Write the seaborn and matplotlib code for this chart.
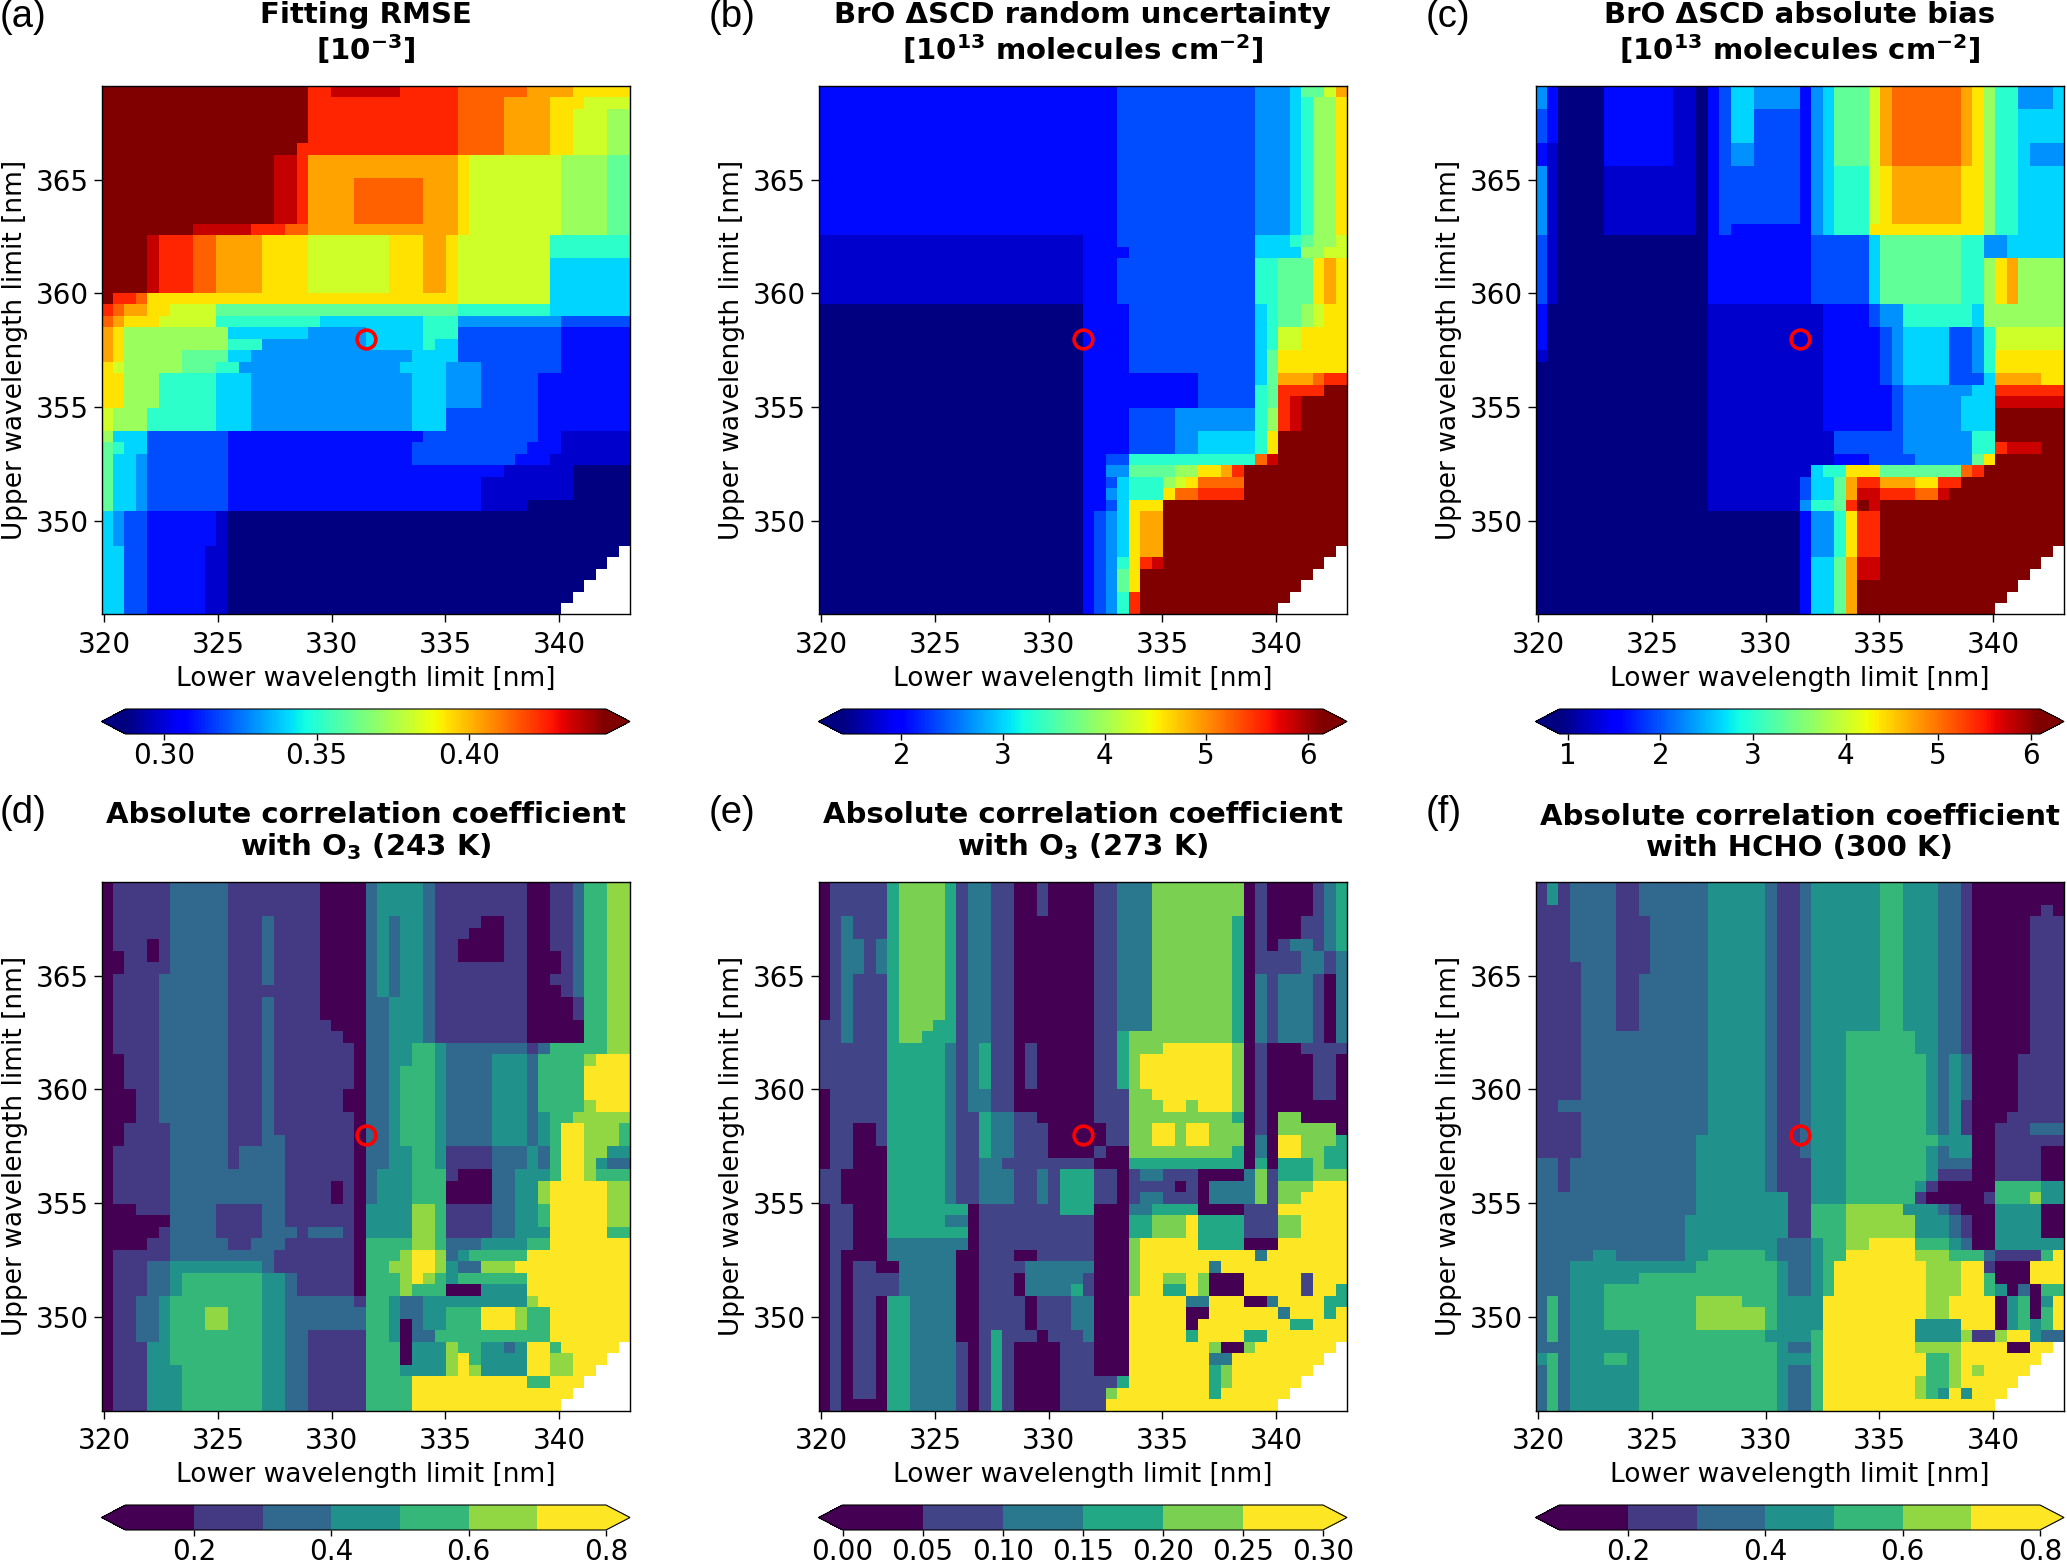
"""Sensitivity of the BrO fit to the wavelength window: six heatmaps."""

import matplotlib

matplotlib.use("Agg")
import matplotlib.pyplot as plt
import numpy as np
import pandas as pd
import seaborn as sns
from matplotlib.colors import BoundaryNorm, ListedColormap

W, H = 2067, 1563
N_CELLS = 46
LOWER_EDGE = 319.875
UPPER_EDGE = 369.125
CELL = 23.25 / N_CELLS

X_TICKS = [320, 325, 330, 335, 340]
Y_TICKS = [350, 355, 360, 365]
FIT_LOWER = 331.5
FIT_UPPER = 358.0

# white corner: number of missing cells in the last rows
MISSING_CELLS = [1, 2, 3, 4, 5, 6]

# Each row group: (how many rows, "code+run code+run ..."), top row first.
# A code is an index into the panel's level list, "*" runs to the right edge.
RMSE_LEVELS = [0.288, 0.298, 0.309, 0.319, 0.330, 0.340, 0.351, 0.361,
               0.372, 0.382, 0.393, 0.403, 0.414, 0.424, 0.435, 0.445]
RMSE_ROWS = [
    (1, "F18 D2 E6 D5 C6 B4 A5"),
    (1, "F18 D13 C4 B4 A3 9*"),
    (3, "F18 D13 C4 B4 A2 93 8*"),
    (1, "F17 D1 D13 C4 B4 A2 93 8*"),
    (2, "F15 E2 D1 B13 A1 98 84 7*"),
    (4, "F15 E2 D1 B4 C6 B3 A1 98 84 7*"),
    (1, "F8 E5 D3 C2 B13 A1 98 84 7*"),
    (2, "F4 E1 D3 C2 B4 A4 97 A3 B2 A1 98 6*"),
    (3, "F4 E1 D3 C2 B4 A4 97 A3 B2 A1 98 5*"),
    (1, "F1 D2 C1 A27 98 5*"),
    (1, "D1 C1 B2 A2 94 721 68 5*"),
    (1, "C1 B1 A3 95 69 59 63 49 3*"),
    (1, "B1 A1 89 57 45 55 63 39 2*"),
    (1, "B1 A1 89 63 49 55 61 52 39 2*"),
    (1, "B1 A1 85 74 52 414 54 39 2*"),
    (1, "A1 91 85 73 62 414 54 43 37 2*"),
    (3, "A2 83 65 53 414 53 43 35 2*"),
    (2, "91 83 66 53 414 53 38 2*"),
    (1, "81 53 37 217 310 22 1*"),
    (1, "71 61 52 37 216 310 23 1*"),
    (1, "71 52 41 37 216 39 23 1*"),
    (1, "71 52 41 37 224 16 0*"),
    (2, "71 52 41 37 222 18 0*"),
    (1, "71 52 41 37 222 14 0*"),
    (3, "51 41 32 26 11 0*"),
    (6, "52 31 31 25 12 0*"),
]

RANDOM_LEVELS = [1.42, 1.74, 2.05, 2.37, 2.68, 3.00, 3.31, 3.63,
                 3.94, 4.26, 4.57, 4.89, 5.20, 5.52, 5.83, 6.15]
RANDOM_ROWS = [
    (1, "223 23 312 43 51 72 91 B*"),
    (12, "223 23 312 43 51 61 82 A*"),
    (1, "123 23 312 53 61 71 82 9*"),
    (1, "123 24 311 54 82 9*"),
    (4, "123 23 312 62 73 A1 B1 A*"),
    (2, "023 24 311 51 61 72 81 91 A*"),
    (2, "023 24 311 51 61 92 A*"),
    (2, "023 24 311 51 71 A*"),
    (1, "023 24 26 35 51 71 B3 C1 D*"),
    (1, "023 24 26 35 61 71 D4 F*"),
    (1, "023 25 25 35 61 71 D1 E1 F*"),
    (2, "023 24 34 47 61 81 D1 E1 F*"),
    (2, "023 24 34 42 55 61 A1 F*"),
    (1, "023 22 32 611 C1 E1 F*"),
    (1, "023 22 42 74 82 A2 B1 D1 F*"),
    (1, "023 22 31 51 63 81 91 A1 C4 F*"),
    (1, "023 22 41 51 63 A1 C2 D4 F*"),
    (1, "023 22 31 51 A3 F*"),
    (4, "023 21 31 41 51 A1 B2 F*"),
    (1, "023 21 31 41 61 A1 D1 E1 F*"),
    (2, "023 21 31 41 71 A1 F*"),
    (2, "023 21 31 41 61 D1 F*"),
]

BIAS_LEVELS = [0.91, 1.26, 1.60, 1.95, 2.29, 2.64, 2.99, 3.33,
               3.68, 4.02, 4.37, 4.72, 5.06, 5.41, 5.75, 6.10]
BIAS_ROWS = [
    (2, "41 21 04 26 12 01 21 31 52 44 21 41 51 73 91 B1 C6 B1 A1 81 62 43 5*"),
    (3, "31 21 04 26 12 01 21 31 52 34 21 41 51 73 91 B1 C6 B1 A1 81 62 53 5*"),
    (2, "21 11 04 26 12 01 21 31 42 34 21 41 51 73 91 B1 C6 B1 A1 81 62 51 4*"),
    (5, "41 11 04 18 01 21 31 36 21 41 51 63 91 A1 B6 A2 81 62 5*"),
    (1, "41 11 04 18 01 21 31 26 21 41 51 63 A10 81 62 5*"),
    (2, "31 11 013 29 35 51 77 62 42 5*"),
    (4, "31 11 013 29 35 51 77 62 81 A1 B1 8*"),
    (2, "21 014 110 24 31 42 66 51 8*"),
    (2, "21 014 110 25 31 41 54 32 41 61 9*"),
    (1, "11 014 110 25 31 41 54 32 41 61 A*"),
    (1, "015 110 25 31 41 54 32 41 61 A*"),
    (1, "015 110 25 31 41 54 33 51 B4 A*"),
    (1, "015 110 26 31 46 52 D*"),
    (1, "015 110 26 31 45 53 E*"),
    (2, "015 110 26 31 45 53 F*"),
    (1, "015 111 36 46 62 F*"),
    (1, "015 111 36 46 62 D1 E3 F*"),
    (1, "015 111 23 34 45 71 A1 F*"),
    (1, "015 19 51 62 A3 77 C1 D1 F*"),
    (1, "015 18 31 52 71 B1 D2 B3 A2 D2 F*"),
    (1, "015 18 31 52 71 B1 E2 D3 C2 E1 F*"),
    (1, "015 18 41 62 71 D1 F1 E1 F*"),
    (4, "023 21 42 61 A1 D2 F*"),
    (2, "023 21 52 71 B1 E2 F*"),
    (3, "023 21 52 71 B1 F*"),
]

O3_243_LEVELS = [0.15, 0.25, 0.35, 0.45, 0.55, 0.65, 0.75]
O3_243_ROWS = [
    (3, "01 15 25 18 04 21 34 21 18 02 12 21 42 5*"),
    (1, "01 15 25 13 21 14 04 21 31 21 32 21 14 02 12 02 12 21 42 5*"),
    (1, "01 15 25 13 21 14 04 21 31 21 32 21 13 03 12 02 12 21 42 5*"),
    (1, "01 13 01 11 25 13 21 14 04 21 31 21 32 21 12 04 12 02 12 21 42 5*"),
    (1, "02 12 01 11 25 13 21 14 04 21 31 21 32 21 12 04 12 03 11 21 42 5*"),
    (1, "02 14 25 13 21 14 04 21 31 21 32 21 18 03 11 21 42 5*"),
    (1, "01 14 26 13 21 14 04 21 31 21 32 21 18 02 12 21 42 5*"),
    (1, "01 14 26 18 04 21 31 21 32 21 18 03 11 21 42 5*"),
    (2, "01 14 26 13 21 14 04 22 33 21 18 04 11 42 5*"),
    (1, "01 14 26 13 21 15 03 22 33 21 18 05 42 5*"),
    (1, "01 14 26 13 21 16 02 22 33 21 18 05 42 5*"),
    (1, "01 14 26 13 21 17 01 22 32 42 31 27 11 21 45 5*"),
    (1, "02 13 26 13 21 17 01 22 32 42 31 24 33 21 44 51 6*"),
    (2, "02 13 26 13 21 17 01 22 31 43 31 24 33 21 44 6*"),
    (1, "03 12 26 13 21 16 02 22 31 43 31 24 33 21 44 6*"),
    (1, "03 12 26 13 21 16 02 22 31 43 31 24 33 21 44 51 6*"),
    (1, "03 12 26 13 21 17 01 22 31 43 31 24 33 21 31 42 5*"),
    (1, "02 14 25 13 21 17 01 22 31 43 31 24 33 21 31 41 62 53 4*"),
    (1, "02 14 25 13 22 16 01 22 31 43 31 24 33 21 31 41 62 53 4*"),
    (1, "01 15 25 11 24 16 01 22 32 42 31 14 23 31 21 41 62 52 3*"),
    (1, "01 15 25 11 24 16 01 22 32 42 31 14 23 31 21 41 62 51 31 2*"),
    (1, "01 15 26 24 16 01 21 33 43 11 03 22 32 31 41 62 51 4*"),
    (2, "01 15 26 24 14 01 11 01 21 33 43 04 22 32 51 65 5*"),
    (1, "03 13 24 14 22 16 01 34 52 41 14 22 32 41 65 5*"),
    (1, "06 24 14 22 16 01 34 52 41 14 22 32 41 65 5*"),
    (1, "05 11 24 14 23 11 23 11 01 34 52 41 14 22 33 65 4*"),
    (1, "04 12 25 12 23 16 01 44 52 41 23 34 42 6*"),
    (1, "01 15 29 17 01 43 51 62 51 21 31 45 6*"),
    (1, "01 13 22 38 21 17 01 42 52 62 51 31 22 53 6*"),
    (1, "01 13 22 31 47 32 21 15 01 43 51 61 51 41 31 46 6*"),
    (1, "01 13 22 31 47 32 21 15 01 43 51 43 03 34 6*"),
    (1, "01 12 22 31 48 32 26 11 42 31 22 39 51 6*"),
    (1, "01 12 22 31 43 52 43 32 27 42 31 22 32 43 63 51 42 6*"),
    (1, "01 12 22 31 43 52 43 32 27 42 31 01 21 32 43 63 51 42 6*"),
    (1, "01 12 22 31 48 32 22 15 42 31 01 22 410 6*"),
    (1, "01 13 32 48 32 22 15 43 01 33 51 42 32 21 31 62 41 6*"),
    (1, "01 13 32 48 32 22 15 43 01 33 51 61 41 34 62 52 6*"),
    (1, "01 13 33 47 32 22 15 43 31 33 51 61 51 34 62 52 6*"),
    (1, "01 13 33 47 32 22 15 44 610 42 6*"),
    (2, "01 13 33 47 32 22 15 44 6*"),
]

O3_273_LEVELS = [0.025, 0.075, 0.125, 0.175, 0.225, 0.275]
O3_273_ROWS = [
    (3, "01 15 31 44 31 11 22 12 02 11 04 12 23 48 01 11 04 11 21 3*"),
    (2, "01 11 21 13 31 44 31 11 22 12 07 12 23 47 31 01 11 03 12 21 3*"),
    (1, "01 11 22 11 21 31 44 31 11 22 12 07 12 23 47 31 01 11 01 11 22 11 21 3*"),
    (2, "01 11 22 11 21 31 44 31 11 22 12 07 12 23 47 31 01 11 13 22 11 21 3*"),
    (4, "01 11 21 13 31 44 31 11 22 12 07 12 23 47 31 01 21 11 23 11 01 2*"),
    (1, "12 21 13 31 43 32 11 22 12 07 12 23 47 31 01 21 11 23 11 01 2*"),
    (1, "12 21 13 31 42 33 11 22 12 07 12 31 42 47 31 01 21 11 23 11 01 2*"),
    (1, "16 35 21 11 21 31 12 01 11 05 12 31 43 56 41 01 11 03 1*"),
    (3, "16 35 21 11 21 31 12 01 11 05 12 31 41 58 41 01 11 04 12 0*"),
    (1, "01 15 35 21 11 21 21 12 07 13 42 57 41 01 11 04 12 0*"),
    (1, "01 15 35 21 11 21 21 12 07 13 42 41 52 41 53 41 01 11 0*"),
    (1, "01 15 35 21 12 31 22 12 05 13 49 31 01 11 01 42 0*"),
    (1, "01 12 02 11 35 21 12 31 22 13 05 12 42 52 41 52 43 01 11 01 45 0*"),
    (1, "01 12 02 11 35 21 12 31 22 13 05 12 42 52 41 52 43 01 21 01 52 43 3*"),
    (1, "01 12 03 35 21 12 31 22 13 04 11 02 49 31 01 21 01 52 42 3*"),
    (1, "01 12 03 35 21 12 22 18 03 310 01 31 01 33 41 3*"),
    (1, "12 04 35 21 12 23 12 21 11 33 12 01 11 22 13 04 21 41 11 33 4*"),
    (1, "12 04 35 21 12 23 12 21 11 33 12 01 14 01 11 01 23 21 41 11 43 5*"),
    (1, "12 04 35 21 12 23 12 21 11 33 12 01 11 22 13 01 23 21 41 11 42 5*"),
    (1, "01 12 03 37 01 16 11 33 03 22 34 04 13 5*"),
    (1, "01 12 03 35 22 01 16 14 03 32 43 51 34 13 42 5*"),
    (1, "01 12 03 37 01 16 14 03 32 43 51 34 13 42 5*"),
    (1, "01 12 03 21 26 01 16 14 03 41 55 34 03 5*"),
    (1, "01 11 04 21 25 02 13 02 15 03 41 510 21 5*"),
    (1, "01 11 01 12 02 25 02 14 26 03 41 56 21 5*"),
    (1, "01 11 01 14 25 02 13 01 25 11 03 41 52 42 51 41 03 55 11 5*"),
    (1, "01 11 01 14 25 02 13 01 24 31 11 03 41 52 32 51 41 03 55 11 52 3*"),
    (1, "01 11 01 12 01 32 24 02 14 01 13 22 03 55 22 53 02 21 54 3*"),
    (1, "01 11 01 12 01 32 24 02 14 01 13 22 03 55 02 56 21 53 31 5*"),
    (1, "01 11 01 12 01 32 24 02 14 01 13 22 03 55 01 58 32 5*"),
    (1, "01 11 01 12 01 32 24 02 11 31 13 01 13 21 03 55 31 54 32 5*"),
    (1, "01 11 01 12 01 32 24 11 01 11 31 11 04 13 03 57 41 02 41 5*"),
    (1, "01 11 01 12 01 32 24 11 01 11 31 11 04 13 03 57 22 5*"),
    (1, "01 11 01 12 01 32 24 11 01 11 31 11 04 13 03 57 31 41 5*"),
    (1, "01 11 01 12 01 32 24 11 01 11 31 11 04 15 31 57 31 41 5*"),
    (1, "01 11 01 12 01 32 24 11 01 11 31 11 04 14 41 58 31 5*"),
    (1, "01 11 04 32 24 11 01 11 31 11 04 14 5*"),
]

HCHO_LEVELS = [0.15, 0.25, 0.35, 0.45, 0.55, 0.65, 0.75]
HCHO_ROWS = [
    (2, "11 31 11 24 12 26 35 21 12 21 36 42 33 22 11 0*"),
    (1, "13 24 12 26 35 21 12 21 36 42 33 22 11 06 11 0*"),
    (1, "13 24 13 25 35 21 12 21 36 42 33 22 11 05 1*"),
    (3, "13 24 13 25 35 21 12 21 36 42 33 22 11 05 1*"),
    (1, "14 23 13 25 35 21 12 21 36 42 33 22 11 05 1*"),
    (5, "14 23 12 26 35 21 12 21 36 42 33 22 11 05 1*"),
    (1, "14 211 35 21 12 21 33 46 32 22 11 05 1*"),
    (1, "14 211 35 21 12 21 33 46 32 22 11 05 1*"),
    (4, "14 211 35 21 12 21 33 47 31 21 31 21 04 1*"),
    (1, "12 213 35 21 12 21 33 47 31 21 31 11 04 1*"),
    (1, "14 211 35 21 12 21 33 47 31 21 31 11 03 1*"),
    (1, "14 211 35 21 12 21 33 47 31 21 31 11 02 13 2*"),
    (1, "14 210 36 21 12 21 33 48 33 02 1*"),
    (1, "14 210 36 21 12 21 33 47 31 21 32 02 14 0*"),
    (1, "22 11 211 36 21 13 33 47 31 21 22 02 14 0*"),
    (1, "22 11 211 36 21 13 33 47 31 13 02 14 0*"),
    (1, "22 11 211 36 21 13 33 46 31 11 05 44 3*"),
    (1, "214 36 32 12 33 46 11 05 11 43 51 3*"),
    (1, "214 36 32 12 41 42 55 33 21 11 03 34 0*"),
    (1, "213 37 32 12 43 56 33 21 11 02 34 0*"),
    (1, "213 37 32 12 43 56 33 21 11 02 34 0*"),
    (1, "213 38 23 31 42 52 64 43 31 21 02 34 3*"),
    (1, "25 32 26 32 45 31 23 31 42 66 53 43 21 14 41 6*"),
    (1, "23 311 47 31 22 31 41 68 53 62 11 03 6*"),
    (1, "23 36 412 31 22 31 41 68 53 62 41 03 6*"),
    (1, "23 33 415 31 22 31 41 68 53 62 41 31 01 21 01 4*"),
    (1, "21 41 21 33 48 54 43 34 69 52 64 01 31 41 01 31 6*"),
    (1, "21 41 21 33 48 56 41 34 69 52 64 01 31 41 01 41 6*"),
    (1, "21 41 21 33 48 56 41 34 68 34 63 01 31 41 31 41 6*"),
    (1, "21 41 21 36 411 34 41 68 34 51 12 51 61 61 31 2*"),
    (1, "23 36 412 31 22 41 68 54 64 02 6*"),
    (1, "31 41 21 33 42 31 412 33 41 69 42 51 6*"),
    (1, "21 41 21 36 412 31 22 41 69 42 51 61 51 6*"),
    (1, "21 41 21 36 412 31 22 41 68 51 42 51 6*"),
    (1, "21 41 21 36 412 31 22 41 68 51 41 31 61 31 6*"),
    (1, "21 41 21 36 412 31 22 41 6*"),
]

TITLES = [
    "Fitting RMSE\n" + r"[$\mathbf{10^{-3}}$]",
    "BrO ΔSCD random uncertainty\n" + r"[$\mathbf{10^{13}}$ molecules cm$\mathbf{^{-2}}$]",
    "BrO ΔSCD absolute bias\n" + r"[$\mathbf{10^{13}}$ molecules cm$\mathbf{^{-2}}$]",
    "Absolute correlation coefficient\n" + r"with O$\mathbf{_3}$ (243 K)",
    "Absolute correlation coefficient\n" + r"with O$\mathbf{_3}$ (273 K)",
    "Absolute correlation coefficient\nwith HCHO (300 K)",
]
PANEL_LABELS = ["(a)", "(b)", "(c)", "(d)", "(e)", "(f)"]


def decode(rows, levels):
    """Expand the run-length rows into a DataFrame, top row first."""
    grid = []
    for count, spec in rows:
        cells = []
        for token in spec.split():
            run = N_CELLS - len(cells) if token[1:] == "*" else int(token[1:])
            cells += [levels[int(token[0], 16)]] * run
        cells = (cells + [cells[-1]] * N_CELLS)[:N_CELLS]
        grid += [cells] * count
    assert len(grid) == N_CELLS, len(grid)
    values = np.array(grid, dtype=float)
    for i, n in enumerate(MISSING_CELLS):
        values[N_CELLS - len(MISSING_CELLS) + i, N_CELLS - n:] = np.nan
    return pd.DataFrame(values)


def px_axes(fig, left, top, width, height):
    return fig.add_axes([left / W, 1 - (top + height) / H, width / W, height / H])


def discrete_style(n_colors, bounds):
    cmap = ListedColormap(plt.get_cmap("viridis", n_colors)(range(n_colors)))
    cmap.set_under(cmap(0))
    cmap.set_over(cmap(n_colors - 1))
    return cmap, BoundaryNorm(bounds, n_colors)


PANELS = [
    (RMSE_ROWS, RMSE_LEVELS, dict(cmap="jet", vmin=0.2875, vmax=0.4447), [0.30, 0.35, 0.40], "%.2f"),
    (RANDOM_ROWS, RANDOM_LEVELS, dict(cmap="jet", vmin=1.42, vmax=6.15), [2, 3, 4, 5, 6], "%d"),
    (BIAS_ROWS, BIAS_LEVELS, dict(cmap="jet", vmin=0.91, vmax=6.10), [1, 2, 3, 4, 5, 6], "%d"),
    (O3_243_ROWS, O3_243_LEVELS, None, [0.2, 0.4, 0.6, 0.8], "%.1f"),
    (O3_273_ROWS, O3_273_LEVELS, None, [0.0, 0.05, 0.10, 0.15, 0.20, 0.25, 0.30], "%.2f"),
    (HCHO_ROWS, HCHO_LEVELS, None, [0.2, 0.4, 0.6, 0.8], "%.1f"),
]
DISCRETE_BOUNDS = {
    3: [0.1, 0.2, 0.3, 0.4, 0.5, 0.6, 0.7, 0.8],
    4: [0.0, 0.05, 0.10, 0.15, 0.20, 0.25, 0.30],
    5: [0.1, 0.2, 0.3, 0.4, 0.5, 0.6, 0.7, 0.8],
}

LEFTS = [101.5, 818.5, 1535.5]
TOPS = [86, 882]
SIZE = 528.5
FONT = 19
TICK_FONT = 20
TITLE_FONT = 21

fig = plt.figure(figsize=(W / 100, H / 100), dpi=100)

for i, (rows, levels, style, cbar_ticks, cbar_fmt) in enumerate(PANELS):
    left, top = LEFTS[i % 3], TOPS[i // 3]
    ax = px_axes(fig, left, top, SIZE, SIZE)
    cax = px_axes(fig, left, top + 623, SIZE, 25)

    if style is None:
        bounds = DISCRETE_BOUNDS[i]
        cmap, norm = discrete_style(len(bounds) - 1, bounds)
        style = dict(cmap=cmap, norm=norm)
    sns.heatmap(
        decode(rows, levels),
        ax=ax,
        cbar_ax=cax,
        cbar_kws={"orientation": "horizontal", "extend": "both", "ticks": cbar_ticks, "format": cbar_fmt},
        xticklabels=False,
        yticklabels=False,
        **style,
    )

    # heatmap axes count cells, so convert the wavelengths to cell positions
    ax.set_xticks([(v - LOWER_EDGE) / CELL for v in X_TICKS], [str(v) for v in X_TICKS])
    ax.set_yticks([(UPPER_EDGE - v) / CELL for v in Y_TICKS], [str(v) for v in Y_TICKS], rotation=0)
    ax.tick_params(labelsize=TICK_FONT, length=6, width=1)
    ax.tick_params(axis="x", pad=6)
    ax.tick_params(axis="y", pad=3)
    for spine in ax.spines.values():
        spine.set_visible(True)
        spine.set_linewidth(1)
    ax.set_xlabel("Lower wavelength limit [nm]", fontsize=FONT)
    ax.set_ylabel("Upper wavelength limit [nm]", fontsize=FONT)
    ax.xaxis.set_label_coords(0.5, -0.097)
    ax.yaxis.set_label_coords(-0.14, 0.5)
    ax.set_title(TITLES[i], fontsize=TITLE_FONT, fontweight="bold", pad=19, linespacing=1.1)

    ax.plot(
        (FIT_LOWER - LOWER_EDGE) / CELL,
        (UPPER_EDGE - FIT_UPPER) / CELL,
        "o",
        mfc="none",
        mec="red",
        mew=2.6,
        ms=13.5,
    )

    cax.tick_params(labelsize=TICK_FONT, length=4, width=1, pad=1.5)
    cax.xaxis.set_ticks_position("bottom")
    cax.minorticks_off()
    ax.collections[0].colorbar.outline.set_linewidth(0.8)

    fig.text(
        max(left - 110, 0) / W,
        1 - (top - 69) / H,
        PANEL_LABELS[i],
        fontsize=27.5,
        family="Liberation Sans",
        va="center",
    )

fig.savefig("out.png", dpi=100)
